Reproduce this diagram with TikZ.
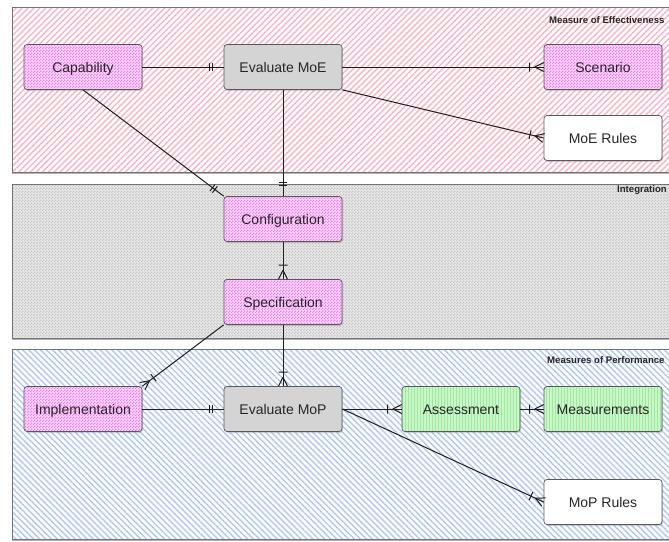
\documentclass[tikz,border=0pt]{standalone}
\usepackage{fontspec}
\setmainfont{Liberation Sans}
\usetikzlibrary{patterns,patterns.meta,shadows,decorations.markings}

% a finer checkerboard than the stock one
\pgfdeclarepatternformonly{finechecker}{\pgfpointorigin}{\pgfqpoint{3pt}{3pt}}{\pgfqpoint{3pt}{3pt}}{%
  \pgfpathrectangle{\pgfpointorigin}{\pgfqpoint{1.5pt}{1.5pt}}%
  \pgfpathrectangle{\pgfqpoint{1.5pt}{1.5pt}}{\pgfqpoint{1.5pt}{1.5pt}}%
  \pgfusepath{fill}}

\definecolor{pinkbg}{RGB}{255,212,255}
\definecolor{pinkdot}{RGB}{236,130,236}
\definecolor{greenbg}{RGB}{200,248,200}
\definecolor{greenln}{RGB}{160,232,160}
\definecolor{evalgray}{RGB}{212,212,212}
\definecolor{moestripe}{RGB}{246,182,198}
\definecolor{mopstripe}{RGB}{178,200,240}
\definecolor{intbg}{RGB}{232,232,232}
\definecolor{intdot}{RGB}{198,198,198}
\definecolor{inkline}{RGB}{30,30,30}

\tikzset{
  x=1pt, y=-1pt,
  panel/.style={draw=black!55, line width=.8pt,
    drop shadow={shadow xshift=0pt, shadow yshift=-2pt, opacity=.6}},
  paneltitle/.style={font=\bfseries\fontsize{9.6}{10}\selectfont, text=black!85, inner sep=0pt},
  box/.style={rounded corners=3pt, draw=black!65, line width=.7pt,
    minimum width=118pt, minimum height=45pt, inner sep=2pt,
    text height=10pt, text depth=0pt,
    font=\fontsize{14}{16}\selectfont, text=black!85,
    drop shadow={shadow xshift=1pt, shadow yshift=-1.5pt, opacity=.35}},
  pinkbox/.style={box, preaction={fill=pinkbg}, pattern=finechecker, pattern color=pinkdot},
  graybox/.style={box, fill=evalgray},
  greenbox/.style={box, preaction={fill=greenbg}, pattern=vertical lines, pattern color=greenln},
  whitebox/.style={box, fill=white},
  link/.style={draw=inkline, line width=1pt},
  onlyone/.style={postaction={decorate}, decoration={markings,
    mark=at position 1 with {
      \draw[inkline, line width=1pt] (-11pt,-4pt) -- (-11pt,4pt) (-14pt,-4pt) -- (-14pt,4pt);}}},
  onemany/.style={postaction={decorate}, decoration={markings,
    mark=at position 1 with {
      \draw[inkline, line width=1pt] (-9pt,0pt) -- (0pt,4.5pt) (-9pt,0pt) -- (0pt,-4.5pt)
        (-14pt,-4.5pt) -- (-14pt,4.5pt);}}}
}

\begin{document}
\begin{tikzpicture}
\useasboundingbox (0,0) rectangle (669,541);

% swim lanes: shadow, then solid ground, then the hatch on top
\draw[panel, preaction={fill=white},
  pattern={Lines[angle=45, distance=4.2pt, line width=1.4pt]}, pattern color=moestripe]
  (12,7) rectangle (675,172);
\draw[panel, preaction={fill=intbg}, pattern=finechecker, pattern color=intdot]
  (12,184) rectangle (675,338);
\draw[panel, preaction={fill=white},
  pattern={Lines[angle=-45, distance=4.2pt, line width=1.4pt]}, pattern color=mopstripe]
  (12,349) rectangle (675,539);

\node[paneltitle, anchor=west] (tmoe) at (549,20) {Measure of Effectiveness};
\node[paneltitle, anchor=east] (tint) at (667,190) {Integration};
\node[paneltitle, anchor=west] (tmop) at (547,360) {Measures of Performance};

% entities
\node[pinkbox]  (cap)  at (83,67)   {Capability};
\node[graybox]  (emoe) at (283,67)  {Evaluate MoE};
\node[pinkbox]  (scen) at (603,67)  {Scenario};
\node[whitebox] (moer) at (603,138) {MoE Rules};
\node[pinkbox]  (conf) at (283,219) {Configuration};
\node[pinkbox]  (spec) at (283,302) {Specification};
\node[pinkbox]  (impl) at (83,409)  {Implementation};
\node[graybox]  (emop) at (283,409) {Evaluate MoP};
\node[greenbox] (asse) at (461,409) {Assessment};
\node[greenbox] (meas) at (603,409) {Measurements};
\node[whitebox] (mopr) at (603,502) {MoP Rules};

% relationships
\draw[link, onlyone] (cap) -- (emoe);
\draw[link, onemany] (emoe) -- (scen);
\draw[link, onemany] (emoe.south east) -- (moer.west);
\draw[link, onlyone] (emoe) -- (conf);
\draw[link, onlyone] (cap.south) -- (conf.north west);
\draw[link, onemany] (conf) -- (spec);
\draw[link, onemany] (spec.south west) -- (impl.north east);
\draw[link, onemany] (spec) -- (emop);
\draw[link, onlyone] (impl) -- (emop);
\draw[link, onemany] (emop) -- (asse);
\draw[link, onemany] (asse) -- (meas);
\draw[link, onemany] (emop.east) -- (mopr.west);
\end{tikzpicture}
\end{document}
